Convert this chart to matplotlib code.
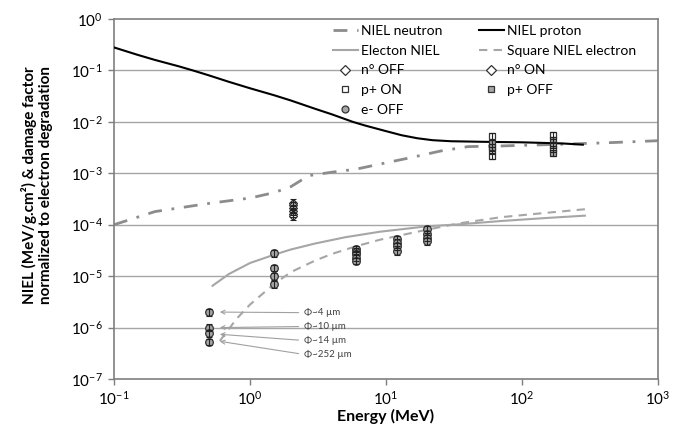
import matplotlib
matplotlib.use("Agg")
import matplotlib.pyplot as plt
import numpy as np
from matplotlib.ticker import FixedLocator, FixedFormatter, NullLocator

plt.rcParams['font.family'] = ['Lato', 'DejaVu Sans']

# ---- data ----
proton_E = [0.1, 0.15, 0.2, 0.3, 0.38, 0.5, 0.7, 1, 1.5, 2, 3, 4, 5.7, 7, 10, 13, 17, 22, 30, 50, 100, 200, 280]
proton_v = [0.28, 0.2, 0.16, 0.12, 0.1, 0.08, 0.06, 0.045, 0.033, 0.026, 0.018, 0.014, 0.01, 0.0085,
            0.0066, 0.0055, 0.0048, 0.0044, 0.0042, 0.0041, 0.004, 0.0038, 0.0036]

neutron_E = [0.1, 0.2, 0.5, 1.0, 1.5, 2.0, 2.7, 4, 6, 10, 15, 25, 40, 70, 150, 400, 1000]
neutron_v = [1e-4, 1.8e-4, 2.6e-4, 3.3e-4, 4.2e-4, 5.5e-4, 9e-4, 1.05e-3, 1.2e-3, 1.6e-3, 2e-3,
             2.7e-3, 3.3e-3, 3.4e-3, 3.6e-3, 3.9e-3, 4.3e-3]

elec_E = [0.53, 0.7, 1, 1.5, 2, 3, 5, 9, 20, 35, 70, 150, 290]
elec_v = [6.5e-6, 1.1e-5, 1.8e-5, 2.6e-5, 3.3e-5, 4.3e-5, 5.7e-5, 7.3e-5, 9.3e-5, 1.02e-4, 1.18e-4, 1.35e-4, 1.5e-4]

sq_E = [0.6, 0.8, 1, 1.5, 2, 3, 4, 6, 9, 20, 35, 70, 150, 290]
sq_v = [5.5e-7, 1.5e-6, 2.8e-6, 7e-6, 1.2e-5, 2e-5, 2.7e-5, 3.8e-5, 5.1e-5, 8e-5, 1.07e-4, 1.4e-4, 1.7e-4, 2e-4]

n_off_E = [2.07, 2.07, 2.07]
n_off_v = [2.7e-4, 2.4e-4, 2.1e-4]
n_on_E = [2.07, 2.07, 2.07]
n_on_v = [1.85e-4, 1.65e-4, 1.45e-4]

pon_E = [60, 60, 60, 170, 170]
pon_v = [5.2e-3, 2.8e-3, 2.2e-3, 5.5e-3, 3.0e-3]
poff_E = [60, 60, 170, 170, 170]
poff_v = [3.8e-3, 3.2e-3, 4.5e-3, 3.6e-3, 2.5e-3]

eoff_E = [0.5, 0.5, 0.5, 0.5, 1.5, 1.5, 1.5, 1.5, 6, 6, 6, 6, 6, 12, 12, 12, 12, 20, 20, 20, 20]
eoff_v = [2.0e-6, 1.0e-6, 7.8e-7, 5.3e-7, 2.8e-5, 1.45e-5, 1.0e-5, 7e-6,
          3.4e-5, 3.0e-5, 2.7e-5, 2.3e-5, 2.0e-5, 5.3e-5, 4.5e-5, 3.8e-5, 3.1e-5,
          8.2e-5, 6.6e-5, 5.6e-5, 4.8e-5]

ann_labels = ['Φ~4 µm', 'Φ~10 µm', 'Φ~14 µm', 'Φ~252 µm']
ann_text_v = [1.95e-6, 1.05e-6, 5.6e-7, 3.0e-7]
ann_tip_v = [2.0e-6, 1.0e-6, 7.4e-7, 5.4e-7]

xticks = [0.1, 1, 10, 100, 1000]
xlabels = [r'$\mathregular{10^{-1}}$', r'$\mathregular{10^{0}}$', r'$\mathregular{10^{1}}$',
           r'$\mathregular{10^{2}}$', r'$\mathregular{10^{3}}$']
yticks = [1e-7, 1e-6, 1e-5, 1e-4, 1e-3, 1e-2, 1e-1, 1]
ylabels = [r'$\mathregular{10^{-7}}$', r'$\mathregular{10^{-6}}$', r'$\mathregular{10^{-5}}$',
           r'$\mathregular{10^{-4}}$', r'$\mathregular{10^{-3}}$', r'$\mathregular{10^{-2}}$',
           r'$\mathregular{10^{-1}}$', r'$\mathregular{10^{0}}$']

# ---- figure ----
fig = plt.figure(figsize=(6.73, 4.32), dpi=100)
ax = fig.add_axes([114/673, 1-379/432, 544/673, 360/432])
ax.set_xscale('log')
ax.set_yscale('log')
ax.set_xlim(0.1, 1000)
ax.set_ylim(1e-7, 1)

gridc = '#a6a6a6'
for y in yticks[1:-1]:
    ax.axhline(y, color=gridc, lw=1.0, zorder=0)

ln_neu, = ax.plot(neutron_E, neutron_v, color='#8c8c8c', lw=2.0,
                  linestyle=(0, (5, 3.5, 1, 3.5)), label='NIEL neutron', zorder=2)
ln_pro, = ax.plot(proton_E, proton_v, color='black', lw=1.5, label='NIEL proton', zorder=3)
ln_el, = ax.plot(elec_E, elec_v, color='#a6a6a6', lw=1.5, label='Electon NIEL', zorder=2)
ln_sq, = ax.plot(sq_E, sq_v, color='#a6a6a6', lw=1.5, linestyle=(0, (4, 3)),
                 label='Square NIEL electron', zorder=2)

edge = '#333333'
def pts(E, v, marker, fc, ms, label):
    h, = ax.plot(E, v, linestyle='none', marker=marker, mfc=fc, mec=edge, mew=0.9,
                 ms=ms, label=label, zorder=4)
    v = np.array(v)
    ax.errorbar(E, v, yerr=[v*0.15, v*0.15], fmt='none', ecolor='#222222',
                elinewidth=0.8, capsize=2, capthick=0.8, zorder=5)
    return h

h_noff = pts(n_off_E, n_off_v, 'D', 'white', 4, 'n° OFF')
h_non = pts(n_on_E, n_on_v, 'D', 'white', 4, 'n° ON')
h_pon = pts(pon_E, pon_v, 's', 'white', 5, 'p+ ON')
h_poff = pts(poff_E, poff_v, 's', '#a6a6a6', 5, 'p+ OFF')
h_eoff = pts(eoff_E, eoff_v, 'o', '#a6a6a6', 5.5, 'e- OFF')

for lab, tv, pv in zip(ann_labels, ann_text_v, ann_tip_v):
    ax.annotate(lab, xy=(0.6, pv), xytext=(2.5, tv), fontsize=7, color='#404040',
                ha='left', va='center',
                arrowprops=dict(arrowstyle='->', color='#a0a0a0', lw=0.8,
                                relpos=(0, 0.5), shrinkA=2, shrinkB=0))

ax.xaxis.set_major_locator(FixedLocator(xticks))
ax.xaxis.set_major_formatter(FixedFormatter(xlabels))
ax.yaxis.set_major_locator(FixedLocator(yticks))
ax.yaxis.set_major_formatter(FixedFormatter(ylabels))
ax.xaxis.set_minor_locator(NullLocator())
ax.yaxis.set_minor_locator(NullLocator())
ax.tick_params(axis='both', which='major', labelsize=11, length=4, width=1,
               color='#7f7f7f', direction='out', pad=4)
for s in ax.spines.values():
    s.set_color('#7f7f7f')
    s.set_linewidth(1.2)

ax.set_xlabel('Energy (MeV)', fontsize=11.5, fontweight='bold', labelpad=1)
fig.text(37/673, 0.572, 'NIEL (MeV/g.cm²) & damage factor\nnormalized to electron degradation',
         rotation=90, ha='center', va='center', fontsize=11, fontweight='bold',
         multialignment='center', linespacing=1.15)

handles = [ln_neu, ln_el, h_noff, h_pon, h_eoff, ln_pro, ln_sq, h_non, h_poff]
leg = ax.legend(handles=handles, labels=[h.get_label() for h in handles], ncol=2,
                loc='upper right', bbox_to_anchor=(0.978, 1.01), frameon=False,
                fontsize=10, handlelength=1.8, handletextpad=0.25, columnspacing=2.6,
                labelspacing=0.55, borderaxespad=0.3)
for h in leg.legend_handles:
    try:
        h.set_markersize(5)
    except Exception:
        pass

fig.savefig('out.png', dpi=100)
